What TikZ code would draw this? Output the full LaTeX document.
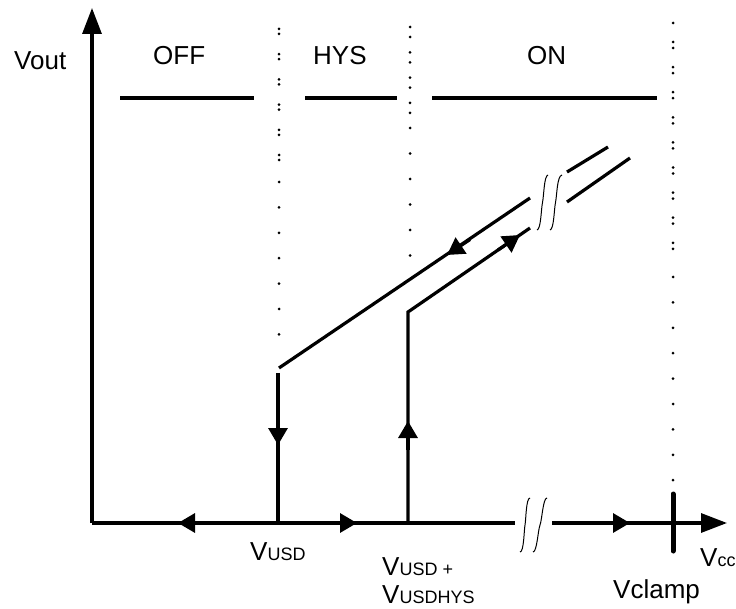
\documentclass[tikz,border=0pt]{standalone}
\usepackage{fontspec}
\setmainfont{Liberation Sans}
\usetikzlibrary{arrows.meta}
\newcommand\smtxt[1]{{\fontsize{18}{20}\selectfont #1}}
\begin{document}
\begin{tikzpicture}[x=1pt,y=-1pt,
  axis/.style={line width=3.2pt},
  curve/.style={line width=3.2pt},
  brk/.style={line width=1pt},
  bighead/.style={-{Triangle[length=26pt,width=19pt]}},
  midhead/.style={-{Triangle[length=17pt,width=19pt]}},
  lbl/.style={anchor=base west,inner sep=0pt,font=\fontsize{26}{30}\selectfont},
  dot/.style={fill=black}]
\useasboundingbox (0,0) rectangle (736,609);
% key points
\coordinate (O) at (92,523);
\coordinate (ytip) at (92,8);
\coordinate (xtip) at (727,523);
\coordinate (xgapL) at (515,523);
\coordinate (xgapR) at (552,523);
\coordinate (d1) at (278,373);
\coordinate (d1b) at (278,523);
\coordinate (u1) at (279,368);
\coordinate (u1e) at (530,198);
\coordinate (u2) at (567,172);
\coordinate (u2e) at (608,147);
\coordinate (l0) at (408,523);
\coordinate (l1) at (408,312);
\coordinate (l1e) at (530,228);
\coordinate (l2) at (567,202);
\coordinate (l2e) at (630,158);
% axes
\draw[axis,bighead] (O) -- (ytip);
\draw[axis] (O) -- (xgapL);
\draw[axis,bighead] (xgapR) -- (xtip);
% mid arrows on x axis
\draw[axis,midhead] (200,523) -- (178,523);
\draw[axis,midhead] (330,523) -- (357,523);
\draw[axis,midhead] (600,523) -- (630,523);
% axis break
\draw[brk] (520,552) .. controls (524,552) and (524,530) .. (525,525) .. controls (526,520) and (526,498) .. (530,498);
\draw[brk] (533,552) .. controls (537,552) and (538,530) .. (540,525) .. controls (542,520) and (543,498) .. (547,498);
% Vclamp tick
\draw[line width=5pt,line cap=round] (673,494) -- (673,551);
% state lines
\draw[axis] (120,98) -- (254,98);
\draw[axis] (305,98) -- (397,98);
\draw[axis] (432,98) -- (657,98);
% hysteresis curves
\draw[curve] (d1) -- (d1b);
\draw[curve,midhead] (278,420) -- (278,445);
\draw[curve] (u1) -- (u1e);
\draw[curve] (u2) -- (u2e);
\draw[curve,midhead] (470,239.5) -- (447,255);
\draw[curve,line join=miter] (l0) -- (l1) -- (l1e);
\draw[curve] (l2) -- (l2e);
\draw[curve,midhead] (408,450) -- (408,421);
\draw[curve,midhead] (498,250) -- (520,235);
% diagonal break marks
\draw[brk] (537,230) .. controls (541,229) and (541,210) .. (542.5,202.5) .. controls (544,195) and (544,176) .. (548,175);
\draw[brk] (550,230) .. controls (554,229) and (554,210) .. (555.5,202.5) .. controls (557,195) and (557,176) .. (562,175);
% dotted lines
\foreach \k in {0,...,5} {
  \fill[dot] (279,{29+25.2*\k}) circle (1.5pt);
  \fill[dot] (279,{34+25.2*\k}) circle (1.5pt);
}
\foreach \k in {0,...,6} { \fill[dot] (279,{182+25.4*\k}) circle (1.5pt); }
\foreach \k in {0,...,3} {
  \fill[dot] (410,{27+25.3*\k}) circle (1.5pt);
  \fill[dot] (410,{37+25.3*\k}) circle (1.5pt);
}
\foreach \k in {0,...,5} { \fill[dot] (410,{128+25.5*\k}) circle (1.5pt); }
\fill[dot] (673,23) circle (1.5pt);
\foreach \k in {0,...,8} {
  \fill[dot] (673,{42+25.1*\k}) circle (1.5pt);
  \fill[dot] (673,{48+25.1*\k}) circle (1.5pt);
}
\foreach \k in {0,...,8} { \fill[dot] (673,{277+25.4*\k}) circle (1.5pt); }
% labels
\node[lbl] (vout) at (14,70) {Vout};
\node[lbl] (off) at (153,65) {OFF};
\node[lbl] (hys) at (313,65) {HYS};
\node[lbl] (on) at (527,65) {ON};
\node[lbl] (vusd) at (250,560) {V\smtxt{USD}};
\node[lbl] (vusdp) at (382,575) {V\smtxt{USD +}};
\node[lbl] (vusdhys) at (382,603) {V\smtxt{USDHYS}};
\node[lbl] (vcc) at (700,566) {V\smtxt{cc}};
\node[lbl] (vclamp) at (613,598) {Vclamp};
\end{tikzpicture}
\end{document}
